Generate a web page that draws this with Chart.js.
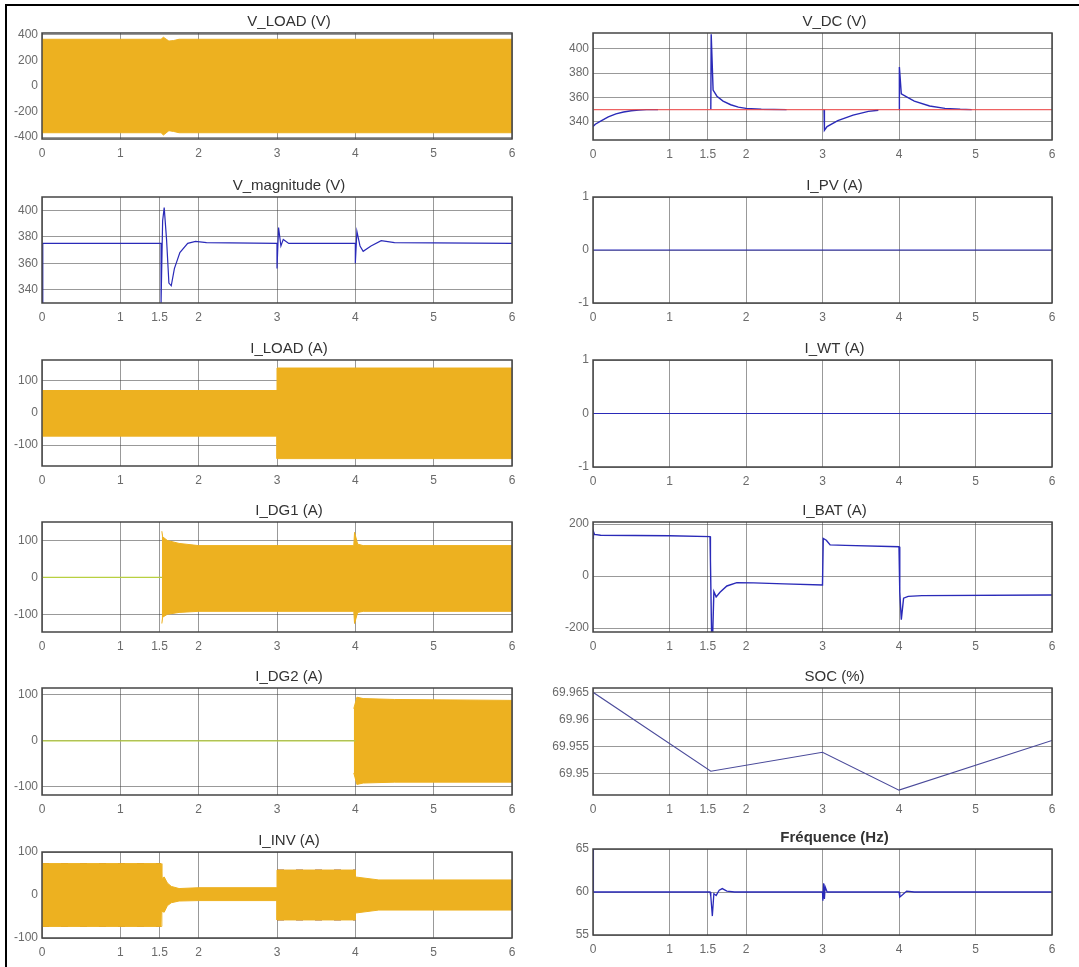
<!DOCTYPE html>
<html>
<head>
<meta charset="utf-8">
<script src="https://cdn.jsdelivr.net/npm/chart.js@4/dist/chart.umd.min.js"></script>
<style>
  body { margin: 0; background: #fff; width: 1079px; height: 967px; position: relative; overflow: hidden; }
  .edge { position: absolute; background: #000; }
  canvas { position: absolute; }
</style>
</head>
<body>
<div class="edge" style="left:5px;top:4px;width:2px;height:963px"></div>
<div class="edge" style="left:5px;top:4px;width:1074px;height:2px"></div>
<script>
// ---- tick values ----
const xTicksA = [0, 1, 2, 3, 4, 5, 6];
const xTicksB = [0, 1, 1.5, 2, 3, 4, 5, 6];
const vLoadTicks = [-400, -200, 0, 200, 400];
const vMagTicks = [340, 360, 380, 400];
const iLoadTicks = [-100, 0, 100];
const iDgTicks = [-100, 0, 100];
const iInvTicks = [-100, 0, 100];
const vdcTicks = [340, 360, 380, 400];
const unitTicks = [-1, 0, 1];
const iBatTicks = [-200, 0, 200];
const socTicks = [69.95, 69.955, 69.96, 69.965];
const freqTicks = [55, 60, 65];

// ---- left column: envelopes of the AC waveforms ----
const vLoadT  = [0, 1.52, 1.55, 1.62, 1.68, 1.75, 6];
const vLoadHi = [366, 366, 382, 352, 356, 366, 366];
const vLoadLo = [-366, -366, -384, -350, -356, -366, -366];

const vMagT = [0, 0.01, 1.52, 1.52, 1.54, 1.56, 1.59, 1.62, 1.65, 1.69, 1.76, 1.86, 1.96, 2.1, 3.0, 3.0, 3.02, 3.05, 3.08, 3.15, 4.0, 4.0, 4.02, 4.06, 4.1, 4.2, 4.33, 4.5, 6];
const vMagV = [330, 375, 375, 330, 392, 402, 378, 345, 343, 356, 368, 375, 376.5, 375.5, 375, 356, 387, 373, 378, 375, 375, 360, 384, 373, 369, 373, 377, 375.5, 375];

const iLoadT  = [0, 3, 3, 6];
const iLoadHi = [70, 70, 140, 140];
const iLoadLo = [-72, -72, -142, -142];

const iDg1OffT = [0, 1.53];
const iDg1OffV = [0, 0];
const iDg1T  = [1.53, 1.54, 1.6, 1.75, 2.0, 3.98, 3.99, 4.03, 4.1, 6];
const iDg1Hi = [125, 110, 100, 92, 86, 86, 122, 90, 86, 86];
const iDg1Lo = [-125, -108, -100, -95, -92, -92, -125, -95, -92, -92];

const iDg2OffT = [0, 4];
const iDg2OffV = [0, 0];
const iDg2T  = [3.98, 4.02, 4.1, 4.5, 6];
const iDg2Hi = [70, 95, 92, 90, 88];
const iDg2Lo = [-70, -95, -92, -90, -90];

const iInvT  = [0, 1.52, 1.53, 1.56, 1.6, 1.65, 1.75, 2.0, 3.0, 3.0, 4.0, 4.0, 4.3, 6];
const iInvHi = [73, 73, 38, 42, 28, 20, 15, 17, 17, 58, 58, 42, 35, 35];
const iInvLo = [-73, -73, -38, -40, -25, -18, -14, -13, -13, -58, -58, -42, -35, -35];

// ---- right column ----
const vdcT = [0, 0.03, 0.1, 0.2, 0.3, 0.4, 0.5, 0.6, 0.7, 0.85, 0.86, 1.54, 1.545, 1.57, 1.62, 1.7, 1.8, 1.9, 2.0, 2.2, 2.53, 2.54, 3.02, 3.025, 3.06, 3.2, 3.4, 3.6, 3.73, 3.74, 4.0, 4.005, 4.03, 4.1, 4.2, 4.4, 4.6, 4.8, 4.95];
const vdcV = [336, 338, 340.5, 344, 346.5, 348, 349, 349.6, 350, 350, null, 350, 412, 366, 361, 357, 354, 352, 351, 350.3, 350, null, 350, 333, 336, 341, 345.5, 348.5, 349.5, null, 350, 385, 363, 360.5, 357, 353, 351, 350.3, 350];
const vdcRefT = [0, 6];
const vdcRefV = [350, 350];

const iPvT = [0, 6];
const iPvV = [0, 0];
const iWtT = [0, 6];
const iWtV = [0, 0];

const iBatT = [0, 0.005, 0.02, 0.1, 1.0, 1.53, 1.535, 1.55, 1.565, 1.58, 1.61, 1.66, 1.75, 1.88, 2.1, 2.5, 3.0, 3.01, 3.05, 3.1, 3.3, 4.0, 4.01, 4.03, 4.06, 4.12, 4.3, 6];
const iBatV = [145, 172, 160, 157, 155, 152, 62, -220, -220, -60, -80, -62, -38, -25, -26, -30, -34, 145, 138, 120, 118, 113, -60, -168, -85, -78, -75, -73];

const socT = [0, 1.54, 3, 4, 6];
const socV = [69.965, 69.9504, 69.9539, 69.9469, 69.9561];

const freqT = [0, 0.005, 1.53, 1.54, 1.56, 1.58, 1.61, 1.65, 1.69, 1.75, 1.85, 3.0, 3.005, 3.015, 3.025, 3.035, 3.06, 4.0, 4.01, 4.05, 4.1, 4.2, 6];
const freqV = [65, 60, 60, 59.5, 57.2, 59.8, 59.6, 60.2, 60.4, 60.1, 60, 60, 59, 61, 59.2, 60.6, 60, 60, 59.4, 59.7, 60.1, 60, 60];

// ---- styles ----
const ORANGE = '#EDB120';
const GREEN = '#B8D040';
const BLUE = '#2a2ab8';
const RED = 'rgba(235,70,70,0.85)';
const GRID = 'rgba(70,70,70,0.55)';
const FONT = '"Liberation Sans", Arial, sans-serif';

const pts = (t, v) => t.map((x, i) => ({ x, y: v[i] }));

function line(t, v, color, width) {
  return { data: pts(t, v), borderColor: color, borderWidth: width || 1.2, fill: false, spanGaps: false };
}
function band(t, hi, lo) {
  return [
    { data: pts(t, hi), borderColor: ORANGE, borderWidth: 1, backgroundColor: ORANGE, fill: '+1' },
    { data: pts(t, lo), borderColor: ORANGE, borderWidth: 1, fill: false }
  ];
}
// dark dashes on the peaks of the big inverter-current blocks
function peakDash(t, v) {
  return {
    data: pts(t, v), borderWidth: 1.2, borderDash: [7, 12], fill: false,
    borderColor: 'rgba(110,40,70,0.8)',
    segment: { borderColor: c => (Math.abs(c.p0.parsed.y) > 50 && Math.abs(c.p1.parsed.y) > 50 && c.p0.parsed.x !== c.p1.parsed.x) ? 'rgba(110,40,70,0.8)' : 'transparent' }
  };
}

const framePlugin = {
  id: 'frame',
  afterDraw(chart) {
    const { ctx, chartArea: a } = chart;
    ctx.save();
    ctx.strokeStyle = '#454545';
    ctx.lineWidth = 1.5;
    ctx.strokeRect(a.left, a.top, a.right - a.left, a.bottom - a.top);
    ctx.restore();
  }
};
const titlePlugin = {
  id: 'panelTitle',
  afterDraw(chart, args, opts) {
    const { ctx, chartArea: a } = chart;
    ctx.save();
    ctx.font = (opts.bold ? 'bold ' : '') + '15px ' + FONT;
    ctx.fillStyle = '#333';
    ctx.textAlign = 'center';
    ctx.textBaseline = 'middle';
    ctx.fillText(opts.text, (a.left + a.right) / 2 + 12, a.top - 11);
    ctx.restore();
  }
};

const padL = 48, padR = 14, titleH = 24, axisH = 26;

function makePanel(p) {
  const w = p.r - p.l + padL + padR;
  const h = p.b - p.t + titleH + axisH;
  const cv = document.createElement('canvas');
  cv.width = w; cv.height = h;
  cv.style.left = (p.l - padL) + 'px';
  cv.style.top = (p.t - titleH) + 'px';
  cv.style.width = w + 'px';
  cv.style.height = h + 'px';
  document.body.appendChild(cv);
  const tickFont = { family: FONT, size: 12 };
  new Chart(cv, {
    type: 'line',
    data: { datasets: p.sets },
    options: {
      responsive: false,
      animation: false,
      events: [],
      layout: { padding: { top: titleH, right: padR, left: 0, bottom: 0 } },
      elements: { point: { radius: 0 }, line: { tension: 0 } },
      plugins: {
        legend: { display: false },
        tooltip: { enabled: false },
        panelTitle: { text: p.title, bold: p.bold }
      },
      scales: {
        x: {
          type: 'linear', min: 0, max: 6,
          afterBuildTicks: s => { s.ticks = p.xt.map(v => ({ value: v })); },
          afterFit: s => { s.height = axisH; },
          grid: { color: GRID, drawTicks: false },
          border: { display: false },
          ticks: { font: tickFont, color: '#6a6a6a', padding: 7, maxRotation: 0, autoSkip: false, callback: v => String(v) }
        },
        y: {
          min: p.y[0], max: p.y[1],
          afterBuildTicks: s => { s.ticks = p.yt.map(v => ({ value: v })); },
          afterFit: s => { s.width = padL; },
          grid: { color: GRID, drawTicks: false },
          border: { display: false },
          ticks: { font: tickFont, color: '#6a6a6a', padding: 4, autoSkip: false, callback: v => String(v) }
        }
      }
    },
    plugins: [framePlugin, titlePlugin]
  });
}

const Lc = { l: 42, r: 512 }, Rc = { l: 593, r: 1052 };

const panels = [
  { ...Lc, t: 33, b: 139, title: 'V_LOAD (V)', y: [-415, 415], yt: vLoadTicks, xt: xTicksA,
    sets: band(vLoadT, vLoadHi, vLoadLo) },
  { ...Lc, t: 197, b: 303, title: 'V_magnitude (V)', y: [330, 410], yt: vMagTicks, xt: xTicksB,
    sets: [line(vMagT, vMagV, BLUE)] },
  { ...Lc, t: 360, b: 466, title: 'I_LOAD (A)', y: [-165, 165], yt: iLoadTicks, xt: xTicksA,
    sets: band(iLoadT, iLoadHi, iLoadLo) },
  { ...Lc, t: 522, b: 632, title: 'I_DG1 (A)', y: [-148, 150], yt: iDgTicks, xt: xTicksB,
    sets: [line(iDg1OffT, iDg1OffV, GREEN, 1.2), ...band(iDg1T, iDg1Hi, iDg1Lo)] },
  { ...Lc, t: 688, b: 795, title: 'I_DG2 (A)', y: [-118, 115], yt: iDgTicks, xt: xTicksA,
    sets: [line(iDg2OffT, iDg2OffV, GREEN, 1.2), ...band(iDg2T, iDg2Hi, iDg2Lo)] },
  { ...Lc, t: 852, b: 938, title: 'I_INV (A)', y: [-100, 100], yt: iInvTicks, xt: xTicksB,
    sets: [...band(iInvT, iInvHi, iInvLo), peakDash(iInvT, iInvHi), peakDash(iInvT, iInvLo)] },

  { ...Rc, t: 33, b: 140, title: 'V_DC (V)', y: [325, 413], yt: vdcTicks, xt: xTicksB,
    sets: [line(vdcRefT, vdcRefV, RED, 1.4), line(vdcT, vdcV, BLUE, 1.4)] },
  { ...Rc, t: 197, b: 303, title: 'I_PV (A)', y: [-1, 1], yt: unitTicks, xt: xTicksA,
    sets: [line(iPvT, iPvV, BLUE)] },
  { ...Rc, t: 360, b: 467, title: 'I_WT (A)', y: [-1, 1], yt: unitTicks, xt: xTicksA,
    sets: [line(iWtT, iWtV, BLUE)] },
  { ...Rc, t: 522, b: 632, title: 'I_BAT (A)', y: [-215, 208], yt: iBatTicks, xt: xTicksB,
    sets: [line(iBatT, iBatV, BLUE, 1.4)] },
  { ...Rc, t: 688, b: 795, title: 'SOC (%)', y: [69.946, 69.9658], yt: socTicks, xt: xTicksB,
    sets: [line(socT, socV, '#4a4a9a', 1.1)] },
  { ...Rc, t: 849, b: 935, title: 'Fréquence (Hz)', bold: true, y: [55, 65], yt: freqTicks, xt: xTicksB,
    sets: [line(freqT, freqV, BLUE, 1.3)] }
];

panels.forEach(makePanel);
</script>
</body>
</html>
